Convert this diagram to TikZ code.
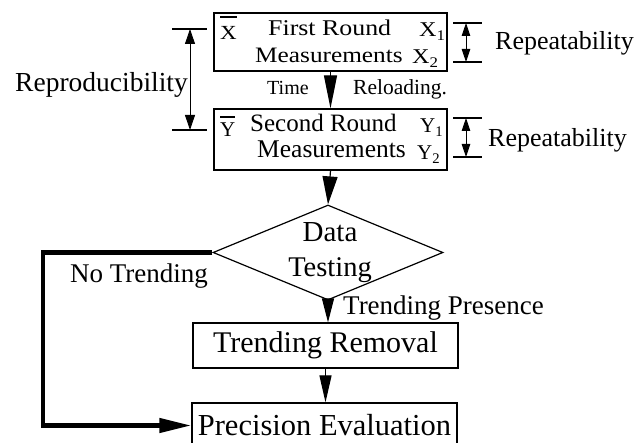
\documentclass[tikz,border=0pt]{standalone}
\usepackage{fontspec}
\setmainfont{Liberation Serif}
\newfontfamily\widefont[FakeStretch=1.15]{Liberation Serif}
\usetikzlibrary{arrows.meta,shapes.geometric}
\newcommand\olet[2]{\setbox0=\hbox{#2}\rlap{\raisebox{#1}{\rule{\wd0}{0.08em}}}\box0}
\tikzset{
  frame/.style={draw, line width=1.2pt, inner sep=0pt},
  lbl/.style={inner sep=0pt, anchor=base west},
  fs/.style={font=\fontsize{#1}{#1}\selectfont},
  wfs/.style={font=\widefont\fontsize{#1}{#1}\selectfont},
  ext/.style={line width=1.1pt},
  dimline/.style={line width=0.9pt, {Triangle[length=13pt,width=8.5pt]}-{Triangle[length=13pt,width=8.5pt]}},
  bigdim/.style={line width=0.9pt, {Triangle[length=15pt,width=10pt]}-{Triangle[length=15pt,width=10pt]}},
}
\begin{document}
\begin{tikzpicture}[x=1pt,y=-1pt]
\useasboundingbox (0,0) rectangle (637,443);
\clip (0,0) rectangle (637,443);

% first round box
\node[frame, minimum width=233pt, minimum height=58pt] (b1) at (330.5,42) {};
\node[lbl,wfs=20] (xbar) at (220,40) {\olet{1.1em}{X}};
\node[lbl,wfs=22.5] (fr) at (268,36) {First Round};
\node[lbl,wfs=21] (x1) at (419,37) {X\textsubscript{1}};
\node[lbl,wfs=22] (m1) at (255,63) {Measurements};
\node[lbl,wfs=21] (x2) at (412,64) {X\textsubscript{2}};

% second round box
\node[frame, minimum width=233pt, minimum height=61pt] (b2) at (330.5,139.5) {};
\node[lbl,fs=21] (ybar) at (220,137) {\olet{0.9em}{Y}};
\node[lbl,fs=25] (sr) at (250,132) {Second Round};
\node[lbl,fs=21] (y1) at (420,133) {Y\textsubscript{1}};
\node[lbl,fs=25.5] (m2) at (257,158) {Measurements};
\node[lbl,fs=21] (y2) at (417,160) {Y\textsubscript{2}};

% between boxes
\node[lbl,fs=20] (time) at (267,95) {Time};
\node[lbl,fs=21.5] (rel) at (353,95) {Reloading.};

% side labels
\node[lbl,fs=26] (rep1) at (495,50) {Repeatability};
\node[lbl,fs=26] (rep2) at (488,147) {Repeatability};
\node[lbl,fs=27.5] (repro) at (15,92) {Reproducibility};

% decision
\node[draw, line width=1.2pt, diamond, inner sep=0pt, minimum width=230pt, minimum height=95pt] (dt) at (328,252.5) {};
\node[inner sep=0pt, anchor=base, fs=29] (data) at (330,242) {Data};
\node[inner sep=0pt, anchor=base, fs=28.5] (test) at (330,277) {Testing};
\node[lbl,fs=27] (nt) at (70,283) {No Trending};
\node[lbl,fs=27] (tp) at (343,315) {Trending Presence};

% lower boxes
\node[frame, minimum width=265pt, minimum height=45pt, fs=30] (tr) at (325.5,345.5) {Trending Removal};
\node[frame, minimum width=265pt, minimum height=45pt, fs=30.5] (pe) at (324.5,425.5) {Precision Evaluation};

% flow arrows
\draw[line width=1.2pt, -{Triangle[length=33pt,width=13pt]}] (b1.south) -- (b2.north);
\draw[line width=1.2pt, -{Triangle[length=28pt,width=15pt]}] (b2.south) -- (dt.north);
\draw[line width=1.2pt, -{Triangle[length=24pt,width=12pt]}] (dt.south) -- (dt.south |- tr.north);
\draw[line width=1.2pt, -{Triangle[length=27pt,width=12pt]}] (tr.south) -- (tr.south |- pe.north);

% no trending bypass
\coordinate (ntc) at (43,252.5);
\draw[line width=4.5pt, -{Triangle[length=32pt,width=14pt]}] (dt.west) -- (ntc) |- (pe.west);

% repeatability dimension 1
\coordinate (r1a) at (466,23);
\coordinate (r1b) at (466,62);
\draw[ext] ([xshift=-13pt]r1a) -- ([xshift=16pt]r1a);
\draw[ext] ([xshift=-13pt]r1b) -- ([xshift=16pt]r1b);
\draw[dimline] (r1a) -- (r1b);

% repeatability dimension 2
\coordinate (r2a) at (466,118);
\coordinate (r2b) at (466,157);
\draw[ext] ([xshift=-13pt]r2a) -- ([xshift=16pt]r2a);
\draw[ext] ([xshift=-13pt]r2b) -- ([xshift=16pt]r2b);
\draw[dimline] (r2a) -- (r2b);

% reproducibility dimension
\coordinate (rpa) at (190,29);
\coordinate (rpb) at (190,130);
\draw[ext] ([xshift=-18pt]rpa) -- ([xshift=17pt]rpa);
\draw[ext] ([xshift=-18pt]rpb) -- ([xshift=17pt]rpb);
\draw[bigdim] (rpa) -- (rpb);
\end{tikzpicture}
\end{document}
